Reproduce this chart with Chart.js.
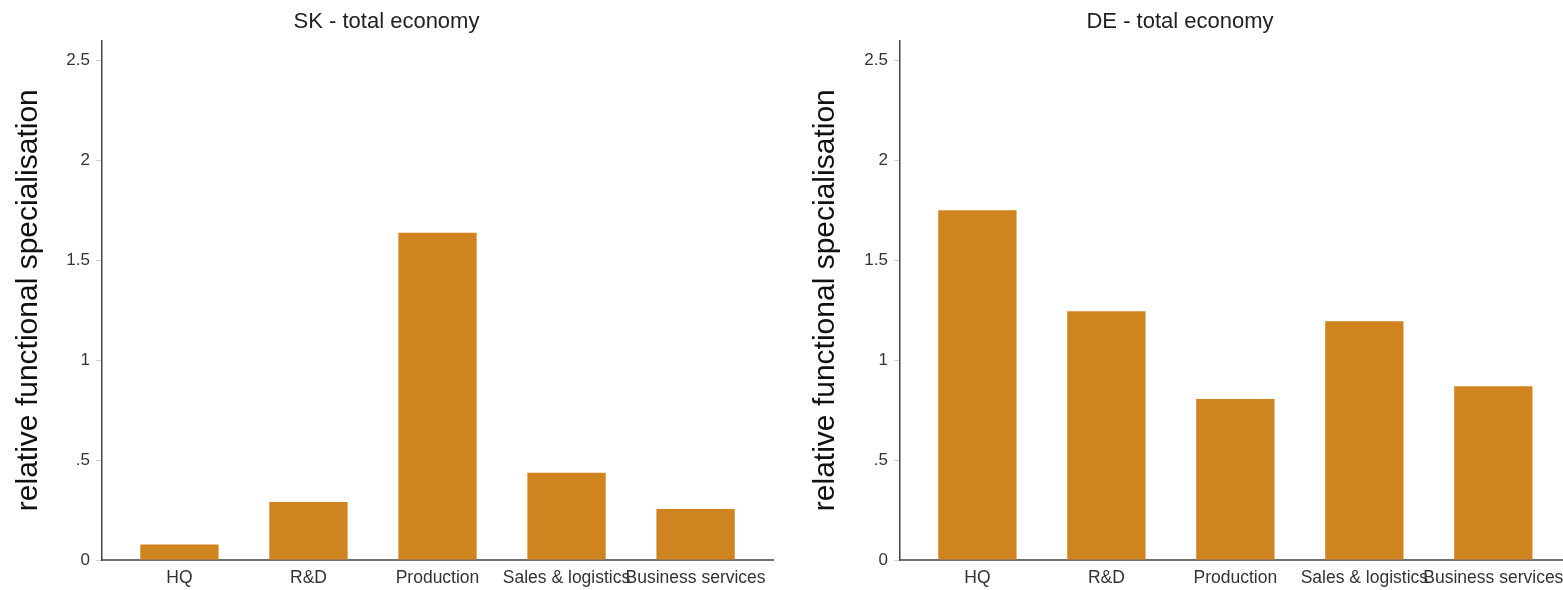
<!DOCTYPE html>
<html><head><meta charset="utf-8">
<script src="https://cdn.jsdelivr.net/npm/chart.js@4"></script>
<style>
html,body{margin:0;padding:0;background:#fff;width:1563px;height:590px;overflow:hidden}
.box{position:absolute;top:0;height:590px}
#b1{left:0;width:780px}
#b2{left:797px;width:766px}
</style></head><body>
<div class="box" id="b1"><canvas id="c1"></canvas></div>
<div class="box" id="b2"><canvas id="c2"></canvas></div>
<script>
const categories = ["HQ", "R&D", "Production", "Sales & logistics", "Business services"];
const skValues = [0.078, 0.29, 1.638, 0.437, 0.255];
const deValues = [1.75, 1.245, 0.806, 1.195, 0.87];
const yTickValues = [0, 0.5, 1, 1.5, 2, 2.5];
const yTickLabels = ["0", ".5", "1", "1.5", "2", "2.5"];
const chartTitles = ["SK - total economy", "DE - total economy"];
const yAxisTitle = "relative functional specialisation";

const FONT = "'Liberation Sans', Arial, Helvetica, sans-serif";
const BAR = "#D0841F";

function makeChart(id, title, values, xMax, padRight, yWidth) {
  return new Chart(document.getElementById(id), {
    type: 'bar',
    data: {
      datasets: [{
        data: values.map((v, i) => ({ x: i + 1, y: v })),
        backgroundColor: BAR,
        borderWidth: 0,
        barPercentage: 1,
        categoryPercentage: 0.607
      }]
    },
    options: {
      responsive: true,
      maintainAspectRatio: false,
      animation: false,
      layout: { padding: { left: 0, right: padRight, top: 0, bottom: 0 } },
      plugins: {
        legend: { display: false },
        tooltip: { enabled: false },
        title: {
          display: true, text: title, color: '#222',
          font: { family: FONT, size: 22, weight: 'normal' },
          padding: { top: 9, bottom: 5 }
        }
      },
      scales: {
        x: {
          type: 'linear', min: 0.4, max: xMax, offset: false,
          afterBuildTicks: s => { s.ticks = categories.map((c, i) => ({ value: i + 1 })); },
          afterFit: s => { s.height = 30; s.paddingLeft = 0; s.paddingRight = 0; },
          grid: { display: false, drawTicks: false, offset: false },
          border: { display: true, color: '#707070', width: 2 },
          ticks: {
            autoSkip: false, maxRotation: 0, minRotation: 0, padding: 8,
            color: '#333', font: { family: FONT, size: 17.5 },
            callback: v => categories[Math.round(v) - 1] ?? ''
          }
        },
        y: {
          min: 0, max: 2.6,
          afterBuildTicks: s => { s.ticks = yTickValues.map(v => ({ value: v })); },
          afterFit: s => { s.width = yWidth; },
          grid: { drawOnChartArea: false, drawTicks: true, tickLength: 6, color: '#cfcfcf' },
          border: { display: true, color: '#444', width: 1.5 },
          ticks: {
            padding: 6, color: '#333', font: { family: FONT, size: 17 },
            callback: (v, i) => yTickLabels[i]
          },
          title: {
            display: true, text: yAxisTitle, color: '#111',
            font: { family: FONT, size: 30, weight: 'normal' },
            padding: { top: 11, bottom: 0 }
          }
        }
      }
    }
  });
}

makeChart('c1', chartTitles[0], skValues, 5.6, 7, 102);
makeChart('c2', chartTitles[1], deValues, 5.54, 0, 103);
</script>
</body></html>
